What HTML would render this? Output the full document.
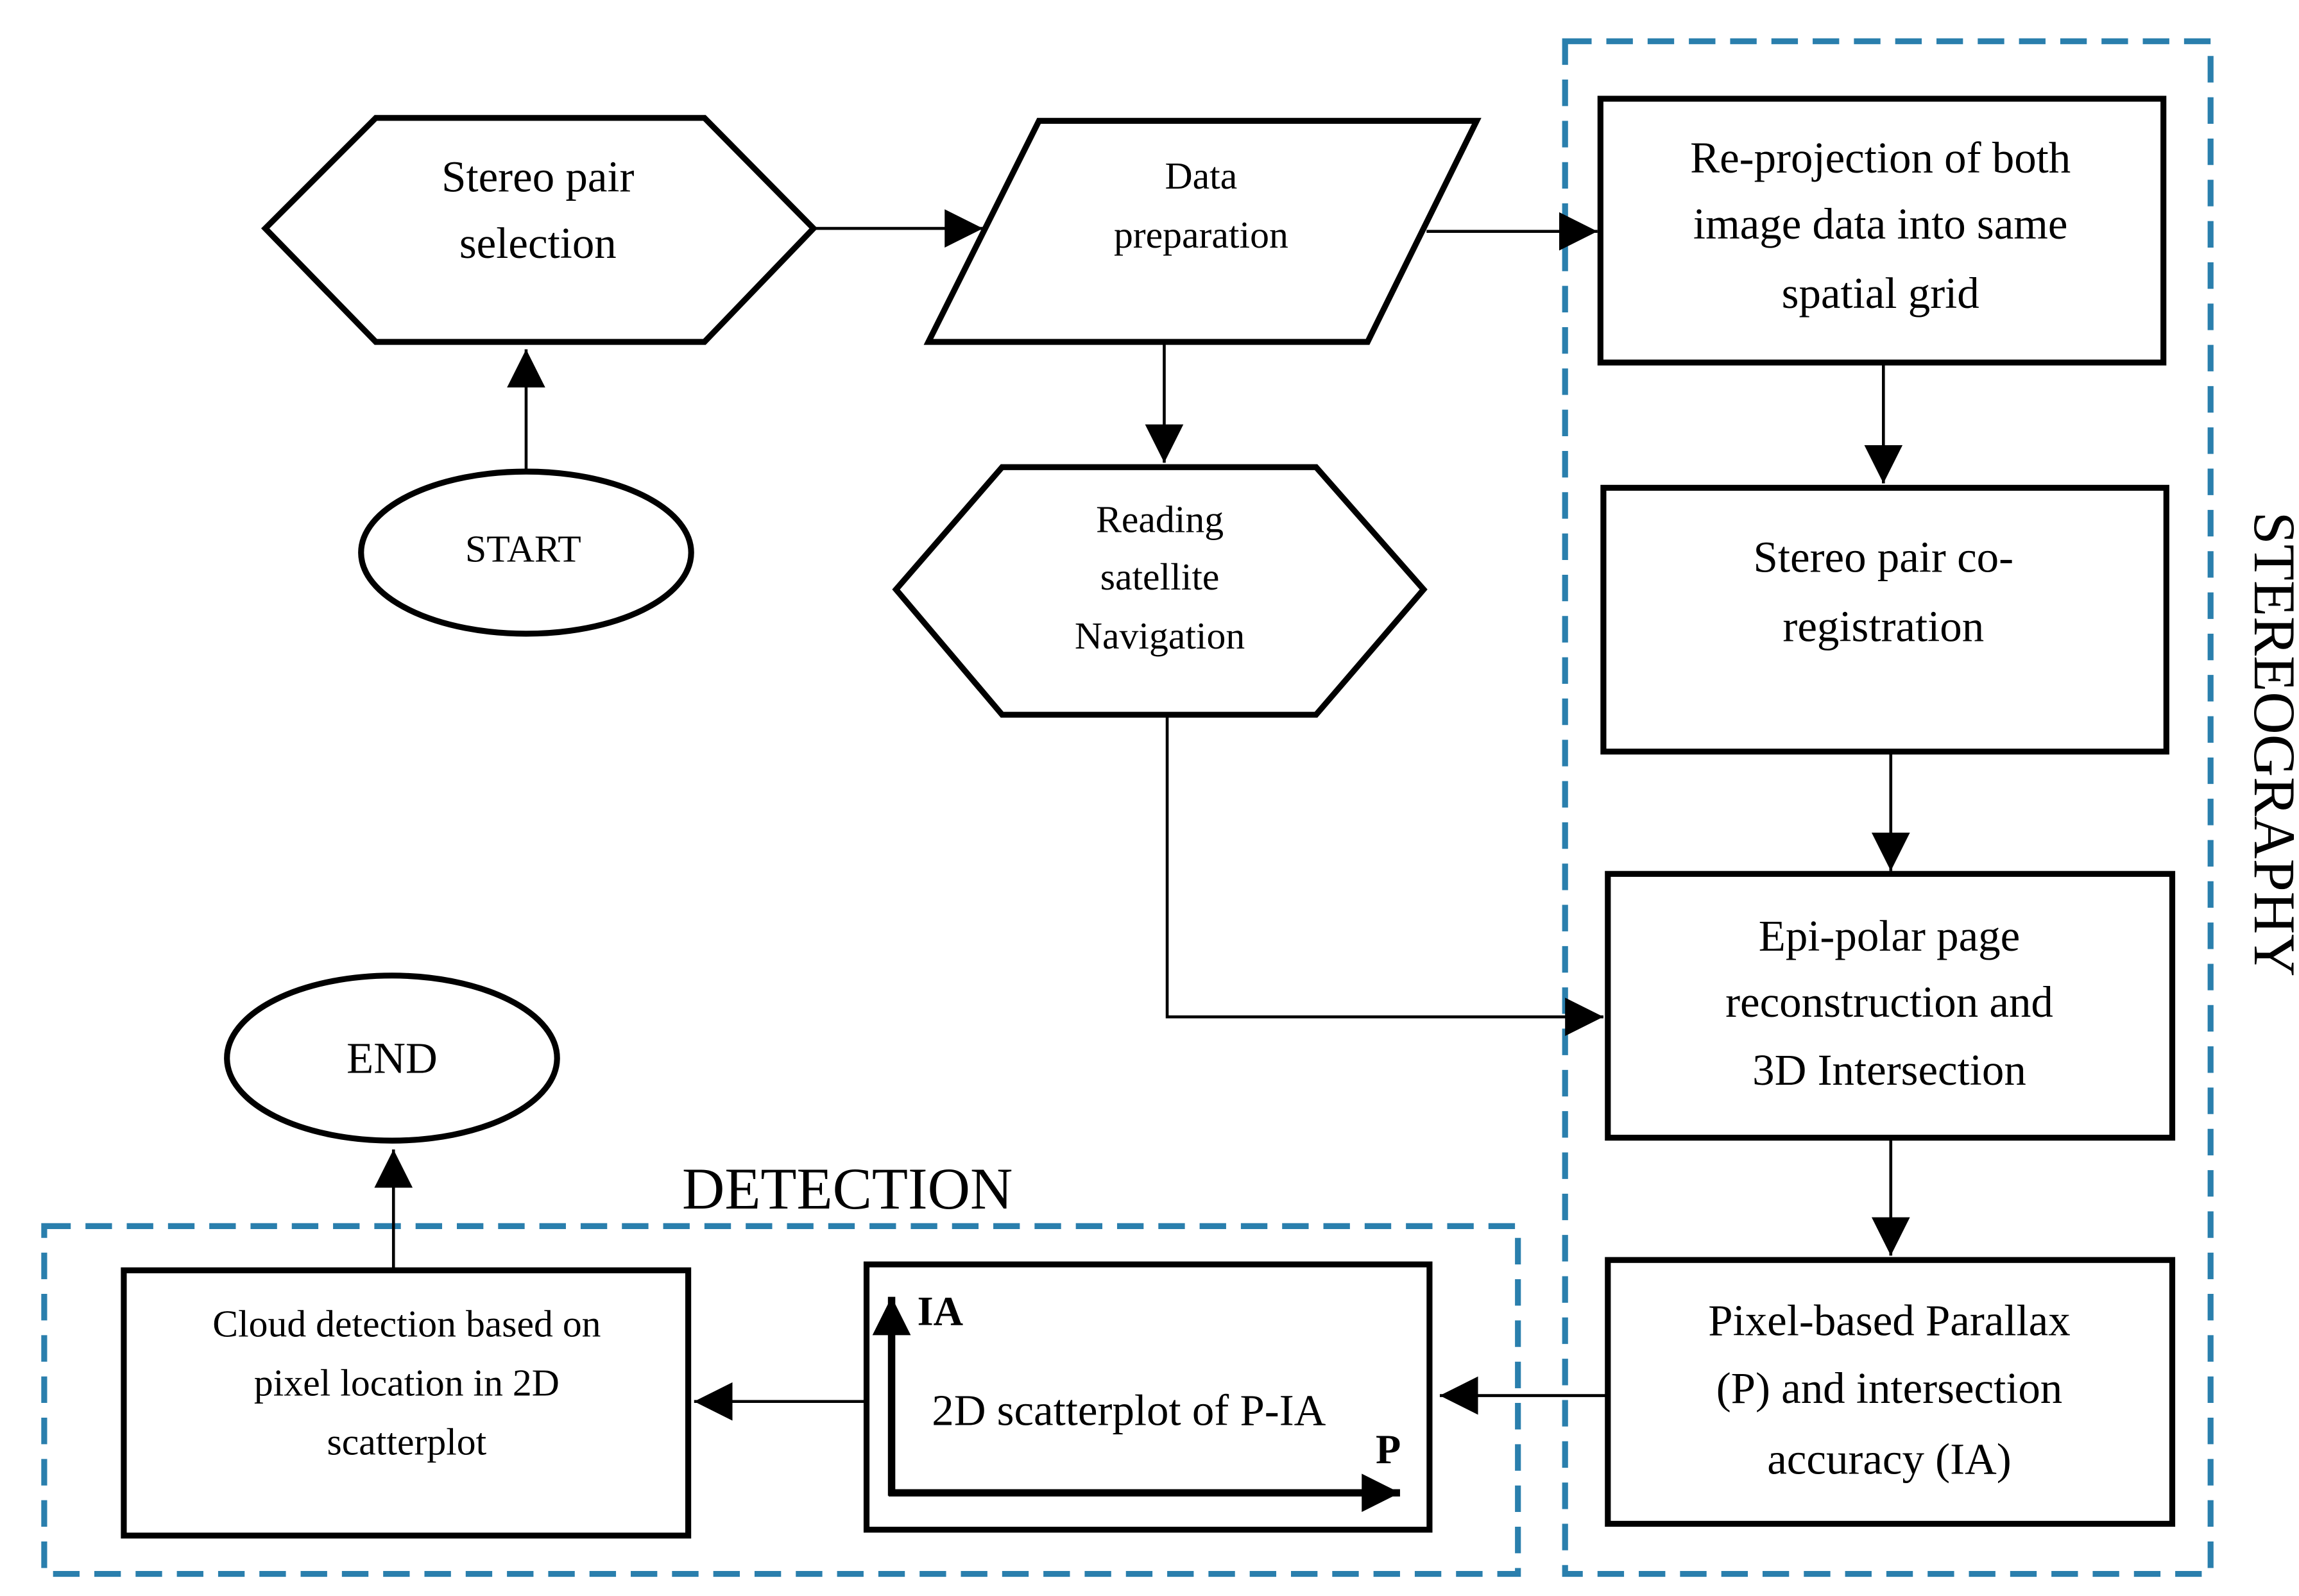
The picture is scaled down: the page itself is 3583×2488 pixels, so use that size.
<!DOCTYPE html>
<html><head><meta charset="utf-8"><style>
html,body{margin:0;padding:0;background:#fff;width:3583px;height:2488px;overflow:hidden}
svg{display:block}
text{font-family:"Liberation Serif",serif;fill:#000;text-anchor:middle}
</style></head><body>
<svg width="3583" height="2488" viewBox="0 0 1560 1083" preserveAspectRatio="none" xmlns="http://www.w3.org/2000/svg">
<defs>
<marker id="a" viewBox="0 0 10 10" refX="10" refY="5" markerWidth="26" markerHeight="26" markerUnits="userSpaceOnUse" orient="auto">
<path d="M0,0 L10,5 L0,10 z" fill="#000"/></marker>
</defs>
<rect width="1560" height="1083" fill="#fff"/>
<g fill="none" stroke="#2a7fad" stroke-width="4" stroke-dasharray="18,10">
<rect x="1062" y="28" width="438" height="1040"/>
<rect x="30" y="832" width="1000" height="236"/>
</g>
<g fill="#fff" stroke="#000" stroke-width="4">
<polygon points="180,155 255,80 478,80 552,155 478,232 255,232"/>
<ellipse cx="357" cy="375" rx="112" ry="55"/>
<polygon points="630,232 705,82 1002,82 928,232"/>
<polygon points="608,400 680,317 893,317 966,400 893,485 680,485"/>
<rect x="1086" y="67" width="382" height="179"/>
<rect x="1088" y="331" width="382" height="179"/>
<rect x="1091" y="593" width="383" height="179"/>
<rect x="1091" y="855" width="383" height="179"/>
<rect x="588" y="858" width="382" height="180"/>
<rect x="84" y="862" width="383" height="180"/>
<ellipse cx="266" cy="718" rx="112" ry="56"/>
</g>
<g stroke="#000" stroke-width="2" fill="none" marker-end="url(#a)">
<line x1="357" y1="318" x2="357" y2="237"/>
<line x1="552" y1="155" x2="667" y2="155"/>
<line x1="968" y1="157" x2="1084" y2="157"/>
<line x1="790" y1="232" x2="790" y2="314"/>
<polyline points="792,485 792,690 1088,690"/>
<line x1="1278" y1="246" x2="1278" y2="328"/>
<line x1="1283" y1="510" x2="1283" y2="591"/>
<line x1="1283" y1="772" x2="1283" y2="852"/>
<line x1="1091" y1="947" x2="977" y2="947"/>
<line x1="588" y1="951" x2="471" y2="951"/>
<line x1="267" y1="862" x2="267" y2="780"/>
</g>
<g stroke="#000" stroke-width="5" fill="none" marker-end="url(#a)">
<line x1="605" y1="1015" x2="605" y2="880"/>
<line x1="603" y1="1013" x2="950" y2="1013"/>
</g>
<g font-size="30">
<text x="365" y="130">Stereo pair</text>
<text x="365" y="175">selection</text>
<text x="1276" y="117">Re-projection of both</text>
<text x="1276" y="162">image data into same</text>
<text x="1276" y="209">spatial grid</text>
<text x="1278" y="388">Stereo pair co-</text>
<text x="1278" y="435">registration</text>
<text x="1282" y="645">Epi-polar page</text>
<text x="1282" y="690">reconstruction and</text>
<text x="1282" y="736">3D Intersection</text>
<text x="1282" y="906">Pixel-based Parallax</text>
<text x="1282" y="952">(P) and intersection</text>
<text x="1282" y="1000">accuracy (IA)</text>
<text x="766" y="967">2D scatterplot of P-IA</text>
<text x="266" y="728">END</text>
</g>
<g font-size="26">
<text x="355" y="381">START</text>
<text x="815" y="128">Data</text>
<text x="815" y="168">preparation</text>
<text x="787" y="361">Reading</text>
<text x="787" y="400">satellite</text>
<text x="787" y="440">Navigation</text>
<text x="276" y="907">Cloud detection based on</text>
<text x="276" y="947">pixel location in 2D</text>
<text x="276" y="987">scatterplot</text>
</g>
<text x="638" y="899" font-size="28" font-weight="bold">IA</text>
<text x="942" y="993" font-size="28" font-weight="bold">P</text>
<text x="575" y="820" font-size="40">DETECTION</text>
<text x="1530" y="505" font-size="40" transform="rotate(90 1530 505)">STEREOGRAPHY</text>
</svg>
</body></html>
